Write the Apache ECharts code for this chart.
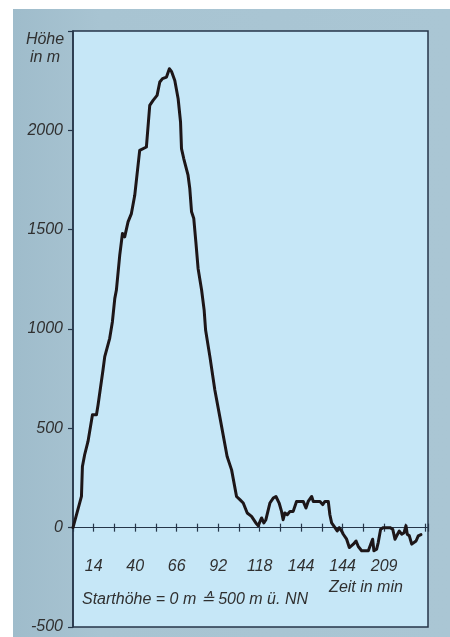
<!DOCTYPE html>
<html>
<head>
<meta charset="utf-8">
<title>Höhenprofil</title>
<script src="https://cdn.jsdelivr.net/npm/echarts@6/dist/echarts.min.js"></script>
<style>
  html, body { margin: 0; padding: 0; background: #ffffff; }
  #wrap { position: relative; width: 450px; height: 637px; overflow: hidden; }
  #panel { position: absolute; left: 13px; top: 9px; right: 0; bottom: 0;
           background: linear-gradient(90deg, #9fbccb 0%, #a8c4d2 20%, #aac6d4 100%); }
  #chart { position: absolute; left: 0; top: 0; width: 450px; height: 637px; }
</style>
</head>
<body>
<div id="wrap">
  <div id="panel"></div>
  <div id="chart"></div>
</div>
<script>
// Flight time in minutes and altitude above the launch point in metres
const timeMin = [
  1, 6.3, 6.9, 8.3, 9.4, 10.4, 13.2, 15.7, 16.7, 19.8, 20.9, 24.0, 25.7, 27.2, 28.2,
  30.3, 32.0, 33.4, 35.5, 37.6, 39.7, 42.8, 47.0, 49.1, 51.2, 53.7, 55.4, 57.1, 59.6,
  61.4, 62.7, 64.8, 66.9, 68.4, 69.0, 70.4, 73.1, 74.2, 75.3, 76.7, 78.0, 79.4, 81.6,
  83.2, 84.1, 86.8, 89.9, 93.0, 97.6, 100.4, 103.5, 105.6, 107.7, 110.2, 112.9, 115.6,
  117.1, 119.2, 120.6, 121.9, 124.4, 126.5, 128.2, 130.2, 131.7, 132.7, 133.8, 135.3,
  137.0, 139.0, 141.1, 145.3, 147.0, 148.4, 150.6, 151.6, 155.8, 157.5, 158.9, 161.0,
  162.0, 163.1, 165.2, 166.6, 167.9, 169.4, 170.4, 172.5, 174.2, 175.2, 176.7, 178.4,
  179.8, 181.9, 186.1, 187.6, 188.8, 189.6, 191.3, 192.3, 193.8, 195.5, 199.7, 201.4,
  202.8, 203.9, 205.5, 207.0, 208.5, 209.7, 210.5, 211.8, 213.3, 214.3, 216.0, 217.4,
  219.1
];
const heightM = [
  0, 157, 308, 367, 375, 434, 568, 568, 618, 794, 861, 953, 1037, 1154, 1196,
  1372, 1481, 1464, 1539, 1581, 1673, 1899, 1916, 2126, 2151, 2176, 2243, 2260, 2268,
  2310, 2297, 2251, 2159, 2042, 1908, 1858, 1774, 1707, 1590, 1556, 1439, 1305, 1196,
  1095, 995, 861, 693, 559, 358, 291, 157, 141, 124, 74, 57, 24,
  10, 49, 24, 40, 124, 149, 157, 124, 82, 40, 74, 65,
  82, 82, 132, 132, 99, 132, 157, 132, 132, 116, 132, 132,
  65, 24, 0, -17, 0, -17, -33, -58, -100, -108, -83, -67,
  -95, -116, -116, -83, -58, -116, -108, -75, -8, 0, 0, -8,
  -58, -41, -17, -33, -25, 10, -33, -41, -83, -92, -67, -41,
  -35
];
// Labels printed under every second tick of the time axis
const timeTickLabels = ['14', '40', '66', '92', '118', '144', '144', '209'];
const yTickValues = [-500, 0, 500, 1000, 1500, 2000];

const textColor = '#303030';
const frameColor = '#26364a';
const fontFamily = '"Liberation Sans", Arial, Helvetica, sans-serif';

const tStart = 1, tStep = 13, tEnd = 223.5;
const hMin = -500, hMax = 2500, hStep = 500;

function timeLabel(v) {
  const k = Math.round((v - tStart) / tStep);
  if (Math.abs(v - tStart - k * tStep) > 0.01) return '';
  if (k % 2 === 1) {
    const s = timeTickLabels[(k - 1) / 2];
    return s === undefined ? '' : s;
  }
  return '';
}

const xCommon = {
  type: 'value',
  min: tStart,
  max: tEnd,
  interval: tStep,
  position: 'bottom',
  splitLine: { show: false }
};
const tickLine = { color: frameColor, width: 1.2 };

const chart = echarts.init(document.getElementById('chart'), null, { renderer: 'canvas' });
chart.setOption({
  backgroundColor: 'transparent',
  animation: false,
  grid: {
    left: 73, top: 31, width: 355, height: 596,
    containLabel: false,
    outerBoundsMode: 'none',
    show: true,
    backgroundColor: '#c6e7f7',
    borderColor: frameColor,
    borderWidth: 1.5
  },
  xAxis: [
    // time labels, lifted from the frame bottom to just under the zero line
    Object.assign({}, xCommon, {
      axisLine: { show: false, onZero: false },
      axisTick: { show: false },
      axisLabel: {
        show: true, margin: -68, formatter: timeLabel,
        color: textColor, fontSize: 16, fontStyle: 'italic', fontFamily: fontFamily
      }
    }),
    // zero line with the lower half of the tick marks
    Object.assign({}, xCommon, {
      axisLine: { show: true, onZero: true, onZeroAxisIndex: 0, lineStyle: tickLine },
      axisTick: { show: true, inside: false, length: 4, lineStyle: tickLine },
      axisLabel: { show: false }
    }),
    // upper half of the tick marks
    Object.assign({}, xCommon, {
      axisLine: { show: true, onZero: true, onZeroAxisIndex: 1, lineStyle: tickLine },
      axisTick: { show: true, inside: true, length: 4, lineStyle: tickLine },
      axisLabel: { show: false }
    })
  ],
  yAxis: [
    {
      type: 'value',
      min: hMin, max: hMax, interval: hStep,
      splitLine: { show: false },
      axisLine: { show: true, onZero: false, lineStyle: { color: frameColor, width: 1.5 } },
      axisTick: { show: true, inside: false, length: 5, lineStyle: tickLine },
      axisLabel: {
        margin: 10,
        color: textColor, fontSize: 16, fontStyle: 'italic', fontFamily: fontFamily,
        formatter: v => (yTickValues.indexOf(v) >= 0 ? String(v) : '')
      }
    },
    {
      type: 'value',
      position: 'left',
      min: hMin, max: hMax, interval: hStep,
      show: false,
      splitLine: { show: false }
    }
  ],
  graphic: [
    {
      type: 'text', z: 10,
      x: 45, y: 49,
      style: {
        text: 'Höhe\nin m',
        fill: textColor, font: 'italic 16px ' + fontFamily,
        align: 'center', verticalAlign: 'middle', lineHeight: 18
      }
    },
    {
      type: 'text', z: 10,
      x: 366, y: 588,
      style: {
        text: 'Zeit in min',
        fill: textColor, font: 'italic 16px ' + fontFamily,
        align: 'center', verticalAlign: 'middle'
      }
    },
    {
      type: 'text', z: 10,
      x: 82, y: 600,
      style: {
        text: 'Starthöhe = 0 m ≙ 500 m ü. NN',
        fill: textColor, font: 'italic 16px ' + fontFamily,
        align: 'left', verticalAlign: 'middle'
      }
    }
  ],
  series: [{
    type: 'line',
    xAxisIndex: 0,
    yAxisIndex: 0,
    data: timeMin.map((t, i) => [t, heightM[i]]),
    symbol: 'none',
    smooth: false,
    lineStyle: { color: '#1d1618', width: 3, join: 'round', cap: 'round' },
    z: 5
  }]
});
</script>
</body>
</html>
